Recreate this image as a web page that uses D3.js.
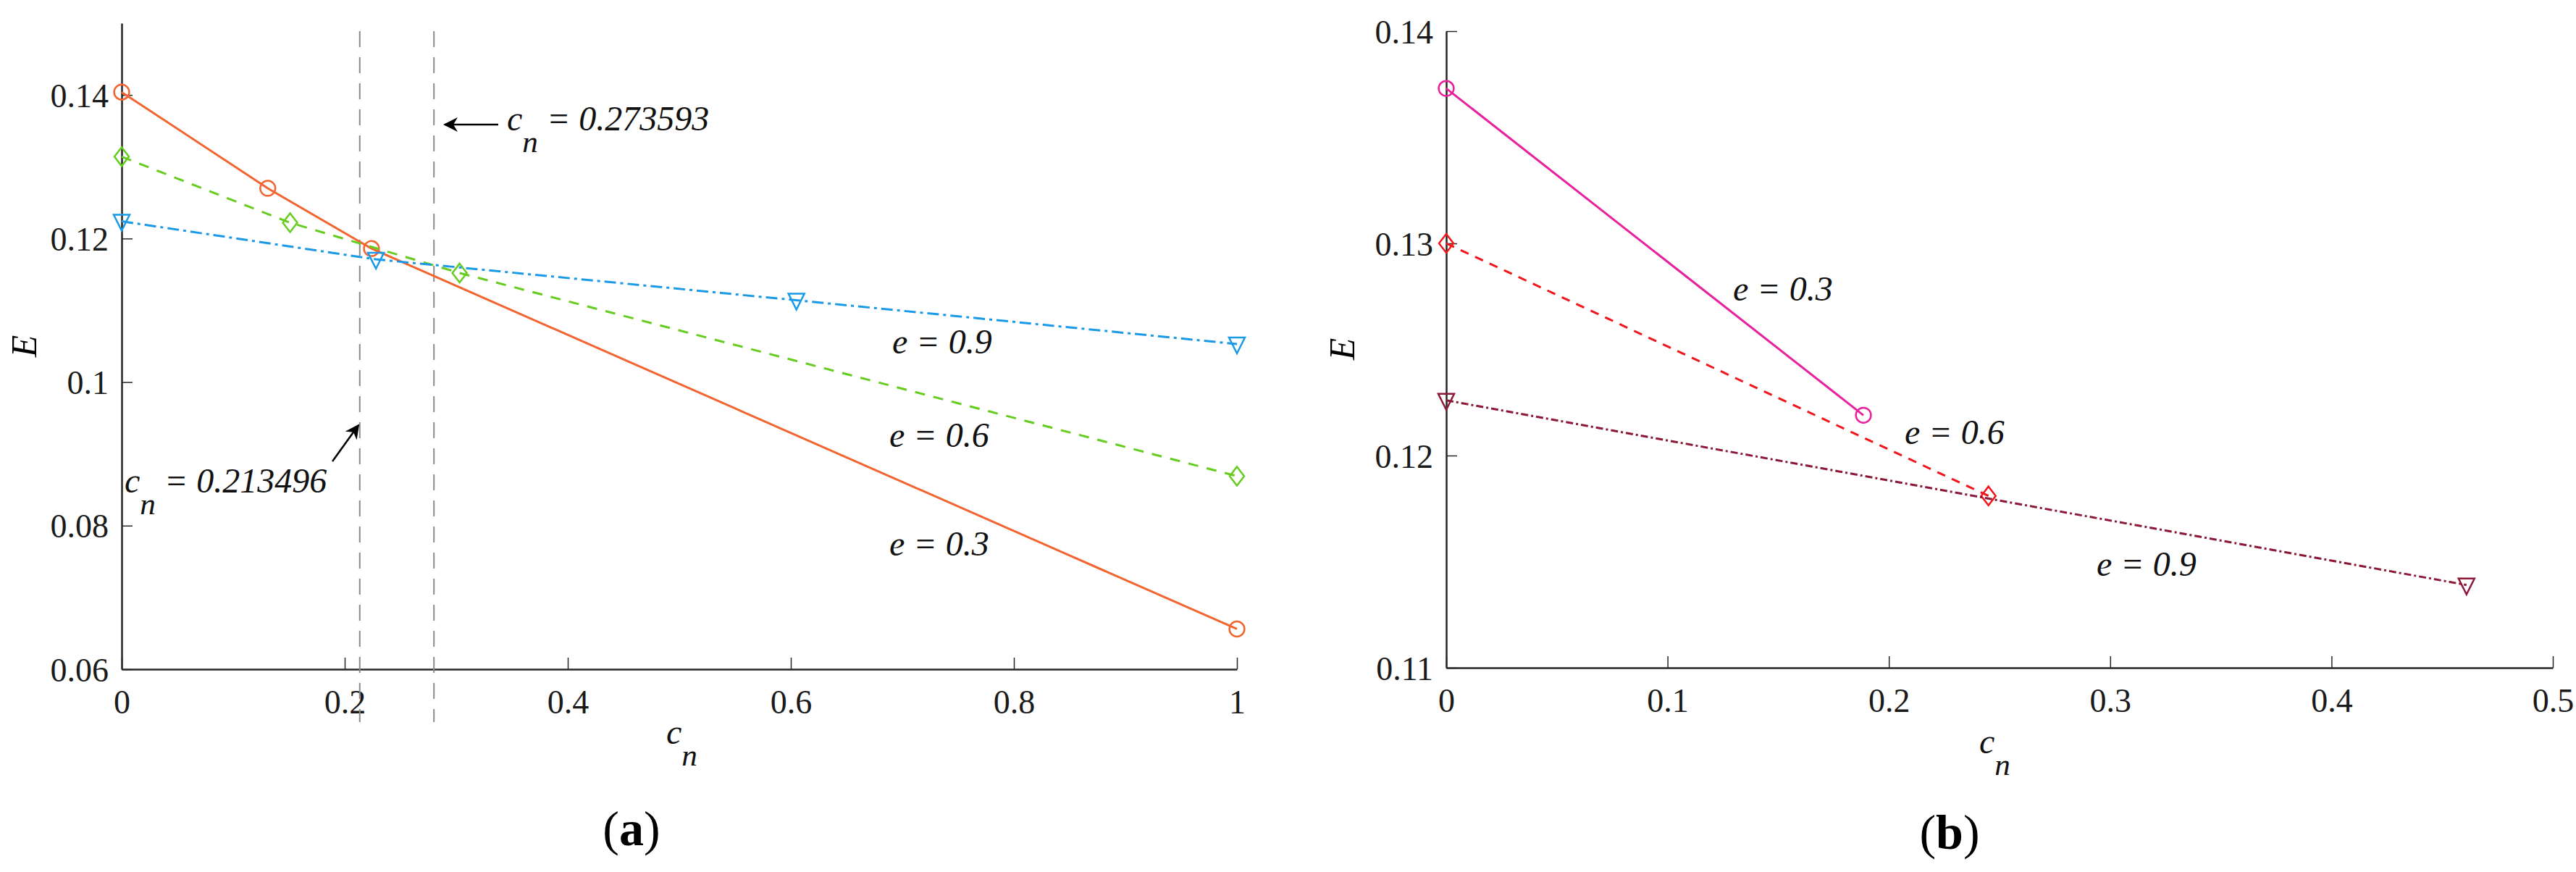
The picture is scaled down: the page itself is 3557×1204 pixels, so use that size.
<!DOCTYPE html>
<html><head><meta charset="utf-8">
<script src="https://cdn.jsdelivr.net/npm/d3@7"></script>
<style>body{margin:0;background:#fff}text{font-family:"Liberation Serif","Times New Roman",serif}</style>
</head><body><svg id="c" width="3557" height="1204"></svg>
<script>
// ---- Panel (a) data ----
const aX_03 = [0, 0.131, 0.224, 1];
const aE_03 = [0.1404, 0.127, 0.1186, 0.0656];
const aX_06 = [0, 0.151, 0.303, 1];
const aE_06 = [0.1314, 0.1222, 0.1152, 0.0869];
const aX_09 = [0, 0.228, 0.605, 1];
const aE_09 = [0.1224, 0.1171, 0.1114, 0.1053];
const aVLines = [0.213496, 0.28];
const aXTicks = [0, 0.2, 0.4, 0.6, 0.8, 1];
const aYTicks = [0.06, 0.08, 0.1, 0.12, 0.14];
// ---- Panel (b) data ----
const bX_03 = [0, 0.1885];
const bE_03 = [0.1373, 0.1219];
const bX_06 = [0, 0.245];
const bE_06 = [0.130, 0.1181];
const bX_09 = [0, 0.461];
const bE_09 = [0.1226, 0.1139];
const bXTicks = [0, 0.1, 0.2, 0.3, 0.4, 0.5];
const bYTicks = [0.11, 0.12, 0.13, 0.14];

const svg = d3.select("#c");
const fmt = d => String(+d.toFixed(2)).replace(/^0\.?$/, "0");

function panel(o){
  const x = d3.scaleLinear().domain(o.xd).range(o.xr);
  const y = d3.scaleLinear().domain(o.yd).range(o.yr);
  const g = svg.append("g");
  // bottom axis
  const xa = g.append("g").attr("transform",`translate(0,${o.yr[0]})`)
    .call(d3.axisBottom(x).tickValues(o.xt).tickSizeInner(-16).tickSizeOuter(0).tickPadding(28).tickFormat(d=>d===0?"0":String(d)));
  const ya = g.append("g").attr("transform",`translate(${o.xr[0]},0)`)
    .call(d3.axisLeft(y).tickValues(o.yt).tickSizeInner(-15).tickSizeOuter(0).tickPadding(18).tickFormat(d=>String(+d.toFixed(2))));
  [xa,ya].forEach(a=>{
    a.select(".domain").attr("stroke","#262626").attr("stroke-width",2.5);
    a.selectAll(".tick line").attr("stroke","#262626").attr("stroke-width",1.5);
    a.selectAll("text").attr("font-size",46).attr("fill","#1a1a1a").attr("font-family","Liberation Serif");
  });
  xa.selectAll("text").attr("dy","0.71em");
  ya.selectAll("text").attr("dy","0.35em");
  return {x,y,g};
}

function series(p, xs, es, color, dash, marker){
  const pts = xs.map((v,i)=>[v,es[i]]);
  p.g.append("path").datum(pts)
    .attr("d", d3.line().x(d=>p.x(d[0])).y(d=>p.y(d[1])))
    .attr("fill","none").attr("stroke",color).attr("stroke-width",3)
    .attr("stroke-dasharray",dash);
  const m = p.g.selectAll(null).data(pts).enter().append("path")
    .attr("transform",d=>`translate(${p.x(d[0])},${p.y(d[1])})`)
    .attr("fill","none").attr("stroke",color).attr("stroke-width",2.5);
  if(marker==="circle") m.attr("d", d3.symbol(d3.symbolCircle, 340)());
  if(marker==="diamond") m.attr("d","M0,-13L10,0L0,13L-10,0Z");
  if(marker==="tri") m.attr("d","M-11,-9L11,-9L0,13Z");
}

function lab(x,y,txt,size){
  const t = svg.append("text").attr("x",x).attr("y",y).attr("font-size",size||48)
    .attr("font-style","italic").attr("fill","#111");
  t.text(txt);
  return t;
}
function cnLabel(x,y,val,size){
  const t = svg.append("text").attr("x",x).attr("y",y).attr("font-size",size||48).attr("font-style","italic").attr("fill","#111");
  t.append("tspan").text("c");
  t.append("tspan").attr("dy",30).attr("font-size",(size||48)*0.9).text("n");
  if(val) t.append("tspan").attr("dy",-30).text(" = "+val);
}

// Panel (a)
const A = panel({xd:[0,1], xr:[168,1708], yd:[0.06,0.15], yr:[924,32], xt:aXTicks, yt:aYTicks});
A.g.selectAll(null).data(aVLines).enter().append("line")
  .attr("x1",d=>A.x(d)).attr("x2",d=>A.x(d)).attr("y1",43).attr("y2",997)
  .attr("stroke","#8a8a8a").attr("stroke-width",2).attr("stroke-dasharray","22,14");
series(A, aX_03, aE_03, "#f26531", null, "circle");
series(A, aX_06, aE_06, "#66cc1f", "14,12", "diamond");
series(A, aX_09, aE_09, "#1a9ae6", "16,6,4,6", "tri");
// Panel (b)
const B = panel({xd:[0,0.5], xr:[1997,3525], yd:[0.11,0.14], yr:[922,43], xt:bXTicks, yt:bYTicks});
series(B, bX_03, bE_03, "#e8219c", null, "circle");
series(B, bX_06, bE_06, "#f0161c", "12,10", "diamond");
series(B, bX_09, bE_09, "#8c1838", "10,4,3,4", "tri");

// annotations (a)
const defs = svg.append("defs");
defs.append("marker").attr("id","ah").attr("viewBox","0 0 10 10").attr("refX",9).attr("refY",5)
  .attr("markerWidth",8).attr("markerHeight",8).attr("orient","auto")
  .append("path").attr("d","M0,0L10,5L0,10L3,5Z").attr("fill","#000");
svg.append("line").attr("x1",688).attr("y1",172).attr("x2",614).attr("y2",172)
  .attr("stroke","#000").attr("stroke-width",2.5).attr("marker-end","url(#ah)");
cnLabel(700,180,"0.273593",48);
svg.append("line").attr("x1",459).attr("y1",637).attr("x2",495).attr("y2",587)
  .attr("stroke","#000").attr("stroke-width",2.5).attr("marker-end","url(#ah)");
cnLabel(172,680,"0.213496",48);
lab(1232,488,"e = 0.9");
lab(1228,617,"e = 0.6");
lab(1228,767,"e = 0.3");
// annotations (b)
lab(2393,415,"e = 0.3");
lab(2630,613,"e = 0.6");
lab(2895,795,"e = 0.9");

// axis titles
cnLabel(920,1027,null,48);
cnLabel(2733,1040,null,48);
svg.append("text").attr("transform","translate(50,478) rotate(-90)").attr("text-anchor","middle")
  .attr("font-size",50).attr("font-style","italic").text("E");
svg.append("text").attr("transform","translate(1870,482) rotate(-90)").attr("text-anchor","middle")
  .attr("font-size",50).attr("font-style","italic").text("E");
// panel captions
function cap(x,y,l){
  const t = svg.append("text").attr("x",x).attr("y",y).attr("text-anchor","middle").attr("font-size",68);
  t.append("tspan").text("(");
  t.append("tspan").attr("font-weight","bold").text(l);
  t.append("tspan").text(")");
}
cap(872,1167,"a");
cap(2692,1172,"b");
</script></body></html>
